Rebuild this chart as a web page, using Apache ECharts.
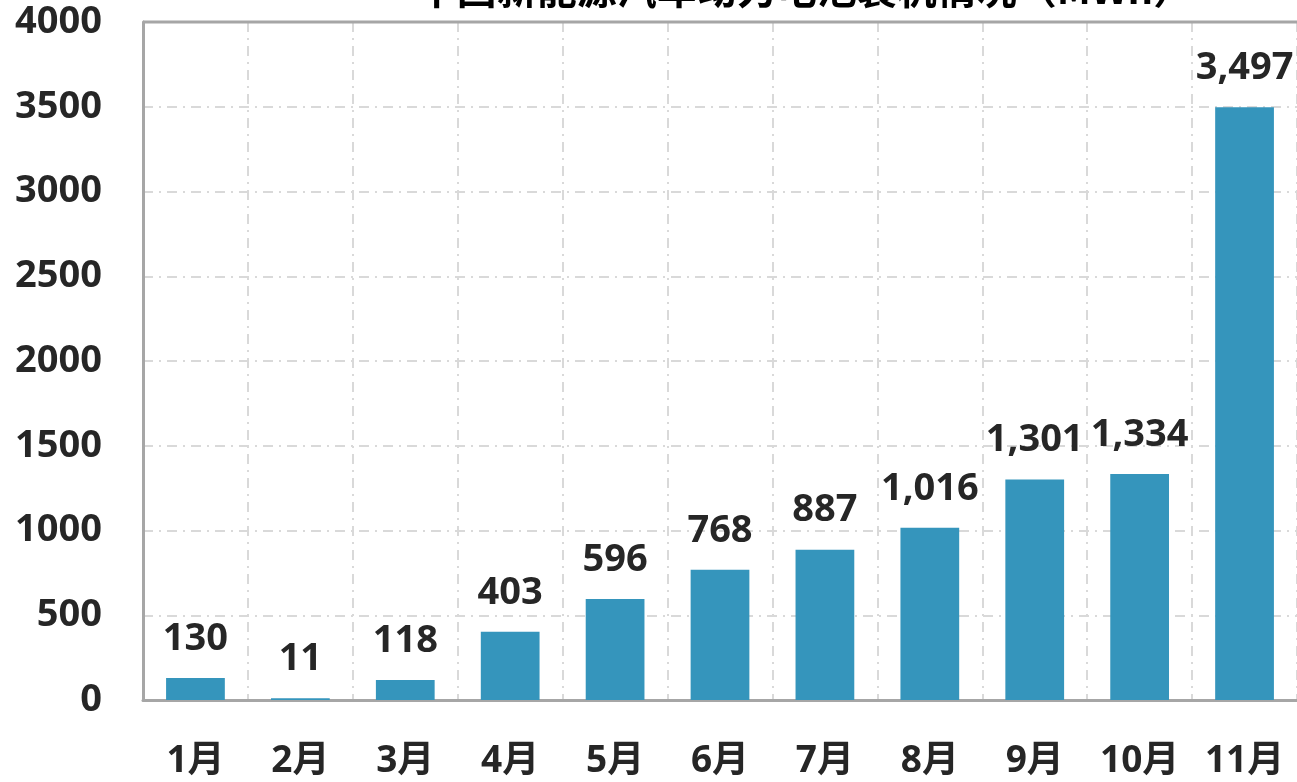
<!DOCTYPE html>
<html><head><meta charset="utf-8">
<script src="https://cdn.jsdelivr.net/npm/echarts@6/dist/echarts.min.js"></script>
<style>html,body{margin:0;padding:0;background:#fff}#c{width:1297px;height:782px}</style>
</head><body><div id="c"></div>
<script>
const titleText = "中国新能源汽车动力电池装机情况（MWh）";
const categories = ["1月","2月","3月","4月","5月","6月","7月","8月","9月","10月","11月"];
const values = [130, 11, 118, 403, 596, 768, 887, 1016, 1301, 1334, 3497];
const yTicks = [0, 500, 1000, 1500, 2000, 2500, 3000, 3500, 4000];

const FONT = '"Open Sans", "Noto Sans CJK SC", sans-serif';
const chart = echarts.init(document.getElementById('c'));
const gridLine = {show:true, lineStyle:{color:'#d9d9d9', width:2, type:[10,6,2,6]}};
chart.setOption({
  animation:false,
  title:{text:titleText, left:800, textAlign:'center', top:-36,
    textStyle:{fontFamily:'"Noto Sans CJK SC", sans-serif', fontWeight:'bold', fontSize:40, color:'#000'}},
  grid:{left:143, right:-1, top:22, bottom:82, containLabel:false},
  xAxis:{type:'category', data:categories,
    axisLine:{show:true, lineStyle:{color:'#a6a6a6', width:3}},
    axisTick:{show:false},
    splitLine:gridLine,
    axisLabel:{margin:43, fontFamily:FONT, fontWeight:'bold', fontSize:37, color:'#262626'}},
  yAxis:{type:'value', min:yTicks[0], max:yTicks[yTicks.length-1], interval:500,
    axisLine:{show:true, lineStyle:{color:'#a6a6a6', width:3}},
    axisTick:{show:false},
    splitLine:gridLine,
    axisLabel:{margin:41, fontFamily:FONT, fontWeight:'bold', fontSize:38, color:'#262626',
      formatter:v=>String(v)}},
  series:[{type:'bar', data:values, barWidth:'56%',
    itemStyle:{color:'#3595BC'},
    label:{show:true, position:'top', distance:20, fontFamily:FONT, fontWeight:'bold', fontSize:38, color:'#262626',
      formatter:p=>p.value.toLocaleString('en-US')}}],
  graphic:[{type:'line', shape:{x1:143, y1:22, x2:1297, y2:22}, style:{stroke:'#a6a6a6', lineWidth:3}, z:100}]
});
</script></body></html>
